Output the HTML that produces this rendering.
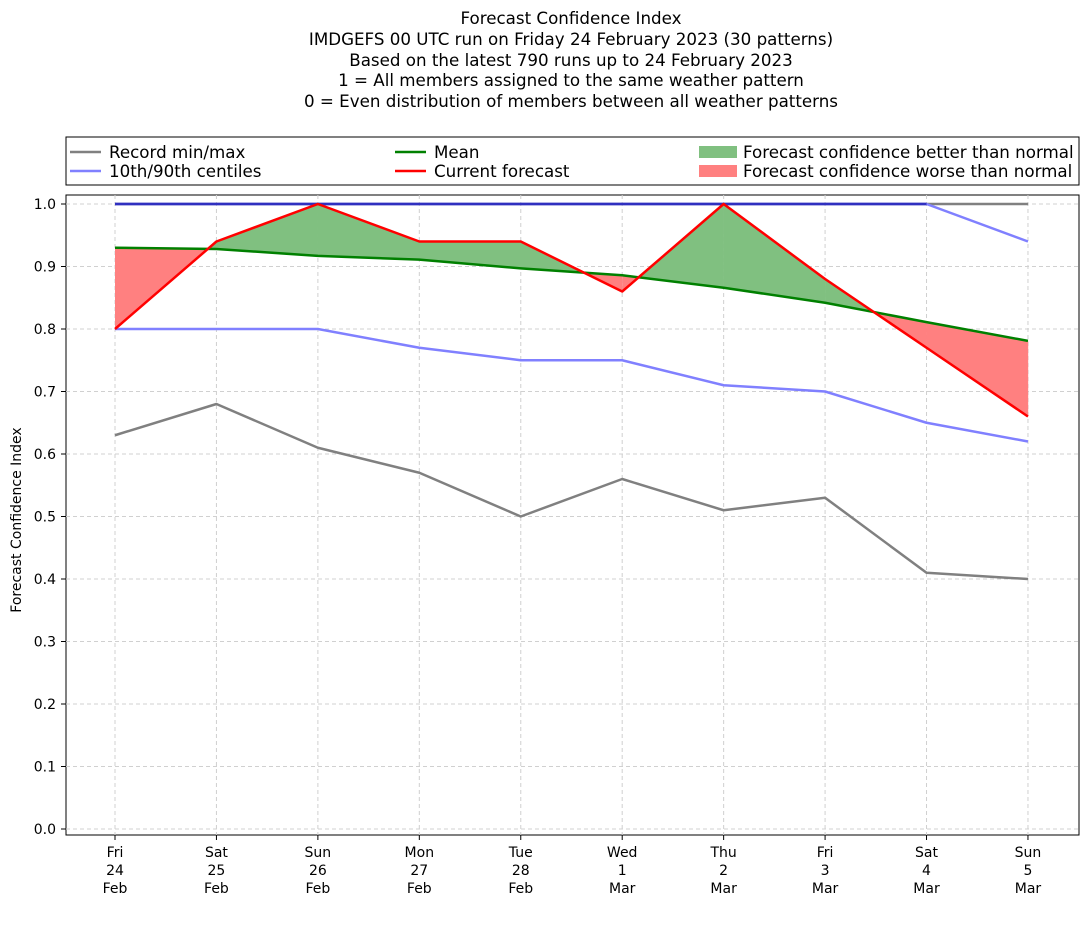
<!DOCTYPE html>
<html><head><meta charset="utf-8"><style>
body{margin:0;background:#fff;}
svg{font-family:"DejaVu Sans","Liberation Sans",sans-serif;}
</style></head><body>
<svg id="s" width="1092" height="924" xmlns="http://www.w3.org/2000/svg">
<rect width="1092" height="924" fill="#fff"/>
<g font-size="16.7" text-anchor="middle" fill="#000">
<text x="571" y="24">Forecast Confidence Index</text>
<text x="571" y="45">IMDGEFS 00 UTC run on Friday 24 February 2023 (30 patterns)</text>
<text x="571" y="66">Based on the latest 790 runs up to 24 February 2023</text>
<text x="571" y="86">1 = All members assigned to the same weather pattern</text>
<text x="571" y="107">0 = Even distribution of members between all weather patterns</text>
</g>
<rect x="66" y="137" width="1013" height="48" fill="#fff" stroke="#000" stroke-width="1"/>
<g font-size="16.7" fill="#000">
<line x1="70" y1="152" x2="101" y2="152" stroke="#808080" stroke-width="2.5"/><text x="109" y="158">Record min/max</text>
<line x1="70" y1="171" x2="101" y2="171" stroke="#8080ff" stroke-width="2.5"/><text x="109" y="177">10th/90th centiles</text>
<line x1="395" y1="152" x2="426" y2="152" stroke="#008000" stroke-width="2.5"/><text x="434" y="158">Mean</text>
<line x1="395" y1="171" x2="426" y2="171" stroke="#ff0000" stroke-width="2.5"/><text x="434" y="177">Current forecast</text>
<rect x="699" y="146" width="38" height="12" fill="#80c080"/><text x="743" y="158">Forecast confidence better than normal</text>
<rect x="699" y="165" width="38" height="12" fill="#ff8080"/><text x="743" y="177">Forecast confidence worse than normal</text>
</g>
<rect x="66" y="195" width="1013" height="640" fill="none" stroke="#000" stroke-width="1"/>
<g id="g"></g>
<text transform="translate(21,520) rotate(-90)" font-size="14" text-anchor="middle">Forecast Confidence Index</text>
</svg>
<script>
const g=document.getElementById('g');
const X=i=>115+i*101.44, Y=v=>829-v*625;
let h='';
for(let k=0;k<=10;k++){const y=Y(k/10);h+=`<line x1="66" x2="1079" y1="${y}" y2="${y}" stroke="#d0d0d0" stroke-dasharray="4,3"/>`;
h+=`<line x1="61" x2="66" y1="${y}" y2="${y}" stroke="#000"/><text x="56" y="${y+5}" font-size="14" text-anchor="end">${(k/10).toFixed(1)}</text>`;}
const days=[["Fri","24","Feb"],["Sat","25","Feb"],["Sun","26","Feb"],["Mon","27","Feb"],["Tue","28","Feb"],["Wed","1","Mar"],["Thu","2","Mar"],["Fri","3","Mar"],["Sat","4","Mar"],["Sun","5","Mar"]];
days.forEach((d,i)=>{const x=X(i);h+=`<line x1="${x}" x2="${x}" y1="195" y2="835" stroke="#d0d0d0" stroke-dasharray="4,3"/><line x1="${x}" x2="${x}" y1="835" y2="840" stroke="#000"/>`;
d.forEach((t,j)=>h+=`<text x="${x}" y="${857+j*18}" font-size="14" text-anchor="middle">${t}</text>`);});
const mn=[.63,.68,.61,.57,.50,.56,.51,.53,.41,.40],mx=Array(10).fill(1);
const p10=[.80,.80,.80,.77,.75,.75,.71,.70,.65,.62],p90=[1,1,1,1,1,1,1,1,1,.94];
const mean=[.93,.928,.917,.911,.897,.886,.866,.842,.811,.781];
const cur=[.80,.94,1.0,.94,.94,.86,1.0,.88,.77,.66];
for(let i=0;i<9;i++){
 const d0=cur[i]-mean[i],d1=cur[i+1]-mean[i+1];
 let COL;
 if(d0*d1>=0){COL=(d0+d1)>0?'#80c080':'#ff8080';h+=`<polygon points="${X(i)},${Y(cur[i])} ${X(i+1)},${Y(cur[i+1])} ${X(i+1)},${Y(mean[i+1])} ${X(i)},${Y(mean[i])}" fill="${COL}" stroke="${COL}" stroke-width="0.5"/>`;}
 else{const t=d0/(d0-d1),xc=i+t,vc=mean[i]+t*(mean[i+1]-mean[i]);
  COL=d0>0?'#80c080':'#ff8080';h+=`<polygon points="${X(i)},${Y(cur[i])} ${X(xc)},${Y(vc)} ${X(i)},${Y(mean[i])}" fill="${COL}"/>`;
  COL=d1>0?'#80c080':'#ff8080';h+=`<polygon points="${X(xc)},${Y(vc)} ${X(i+1)},${Y(cur[i+1])} ${X(i+1)},${Y(mean[i+1])}" fill="${COL}"/>`;}
}
const line=(a,c)=>`<polyline fill="none" stroke="${c}" stroke-width="2.5" stroke-linejoin="round" points="${a.map((v,i)=>X(i)+','+Y(v)).join(' ')}"/>`;
h+=line(mn,'#808080')+line(mx,'#808080')+line(p10,'#8080ff')+line(p90,'#8080ff');
h+=`<polyline fill="none" stroke="#3030c0" stroke-width="2.5" points="${X(0)},${Y(1)} ${X(8)},${Y(1)}"/>`;
h+=line(mean,'#008000')+line(cur,'#ff0000');
g.innerHTML=h;
</script>
</body></html>
